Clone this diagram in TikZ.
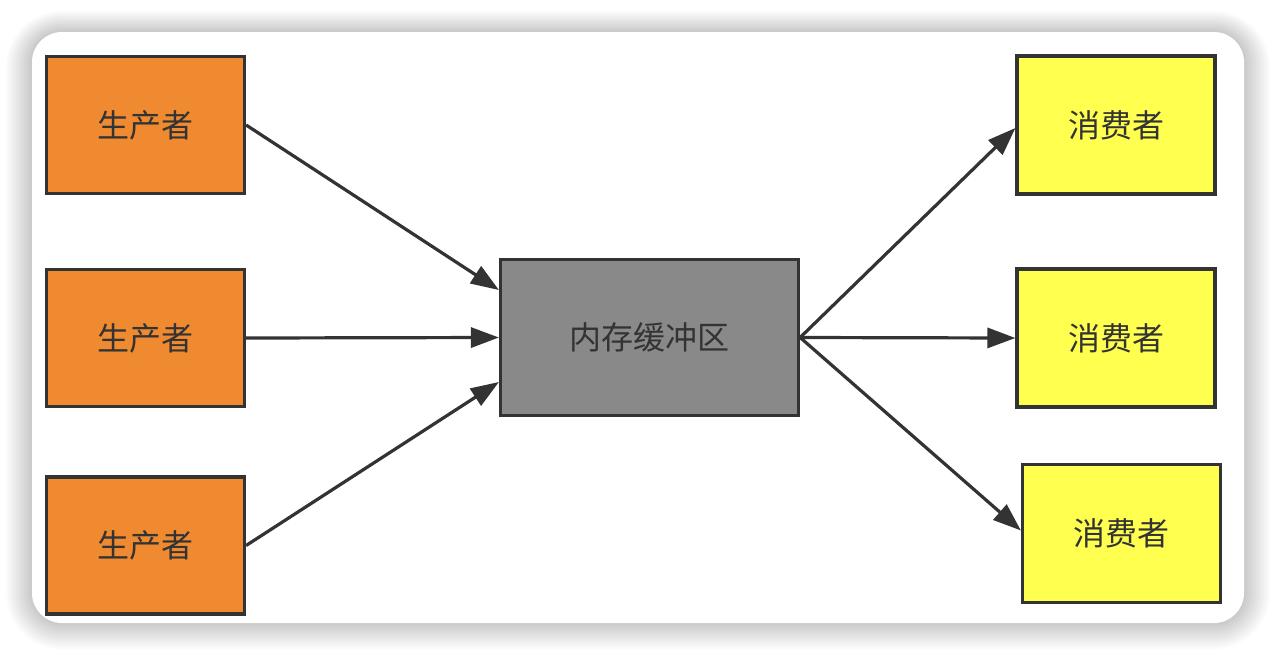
\documentclass[tikz,border=0pt]{standalone}
\usepackage{fontspec}
\setmainfont{Noto Sans CJK SC}
\usetikzlibrary{arrows.meta}

\definecolor{prodfill}{HTML}{EF8A31}
\definecolor{consfill}{HTML}{FFFF4F}
\definecolor{buffill}{HTML}{898989}
\definecolor{edgegray}{HTML}{333333}

\tikzset{
    box/.style={draw=edgegray,line width=3.2pt,text=edgegray,
        font=\fontsize{32}{36}\selectfont,inner sep=0pt},
    producer/.style={box,fill=prodfill,minimum width=198pt,minimum height=137pt},
    consumer/.style={box,fill=consfill,minimum width=198pt,minimum height=138pt},
    buffer/.style={box,fill=buffill,minimum width=298pt,minimum height=156pt},
    flow/.style={draw=edgegray,line width=3.2pt,
        -{Triangle[length=28pt,width=20pt]}},
}

\begin{document}
\begin{tikzpicture}[x=1pt,y=-1pt]

% Page and card with a soft shadow
\useasboundingbox (0,0) rectangle (1276,656);
\fill[white] (0,0) rectangle (1276,656);
\foreach \s in {26,24,...,2} {
    \fill[black,opacity=0.014,rounded corners=30pt+\s pt]
        (32-\s,32-\s*0.8) rectangle (1244+\s,623+\s);
}
\fill[white,rounded corners=30pt] (32,32) rectangle (1244,623);

% Producers on the left
\foreach \n/\y in {1/125,2/338,3/545.5} {
    \node[producer] (p\n) at (145.5,\y) {生产者};
}

% The shared buffer
\node[buffer] (buf) at (649.5,337.5) {内存缓冲区};

% Consumers on the right
\node[consumer] (c1) at (1116,125) {消费者};
\node[consumer] (c2) at (1116,338) {消费者};
\node[consumer] (c3) at (1121.5,533.5) {消费者};

% Draw the arrows into and out of the buffer
\draw[flow] (p1.east) -- ([yshift=47.5pt]buf.west);
\draw[flow] (p2.east) -- (buf.west);
\draw[flow] (p3.east) -- ([yshift=-44.5pt]buf.west);
\draw[flow] (buf.east) -- ([yshift=-3pt]c1.west);
\draw[flow] (buf.east) -- (c2.west);
\draw[flow] (buf.east) -- ([yshift=3pt]c3.west);

\end{tikzpicture}
\end{document}
